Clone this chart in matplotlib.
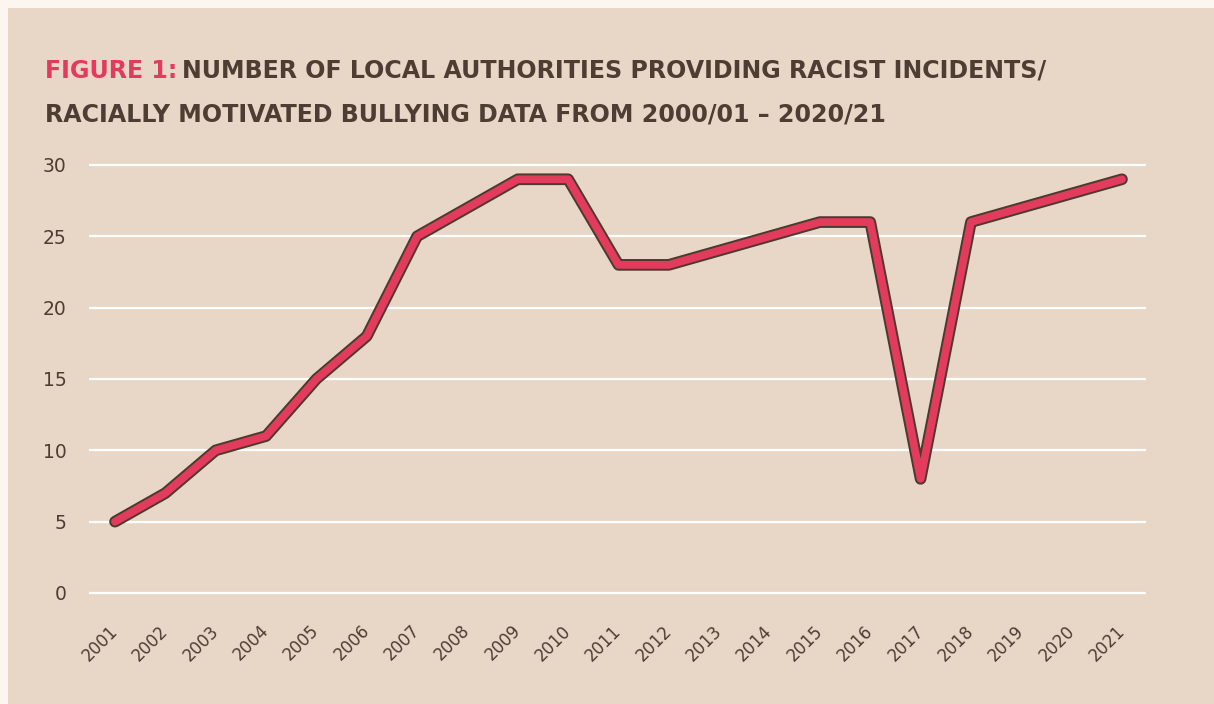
import matplotlib
matplotlib.use('Agg')
import matplotlib.pyplot as plt
from matplotlib.patches import Rectangle
from matplotlib.transforms import ScaledTranslation

# data: number of local authorities providing data, by year
years = ['2001', '2002', '2003', '2004', '2005', '2006', '2007', '2008', '2009', '2010', '2011',
         '2012', '2013', '2014', '2015', '2016', '2017', '2018', '2019', '2020', '2021']
counts = [5, 7, 10, 11, 15, 18, 25, 27, 29, 29, 23, 23, 24, 25, 26, 26, 8, 26, 27, 28, 29]
yticks = [0, 5, 10, 15, 20, 25, 30]

title_red = 'FIGURE 1:'
title_rest = 'NUMBER OF LOCAL AUTHORITIES PROVIDING RACIST INCIDENTS/'
title_line2 = 'RACIALLY MOTIVATED BULLYING DATA FROM 2000/01 \u2013 2020/21'

outer_bg = '#fdf6f0'
panel_bg = '#e8d7c7'
brown = '#4d3d33'
red = '#e23b5b'
outline = '#4a3a30'

fam = ['DejaVu Sans']

W, H = 1214, 704
fig = plt.figure(figsize=(W / 100, H / 100), dpi=100)
fig.patch.set_facecolor(outer_bg)
fig.patches.append(Rectangle((8 / W, 0), 1, 1 - 8 / H, transform=fig.transFigure,
                             facecolor=panel_bg, edgecolor='none', zorder=-10))

# axes: gridlines 0 -> y=593px, 30 -> y=165px, x from 89 to 1146 px
px_unit = (593 - 165) / 30
ax_bottom = 1 - (593 + px_unit) / H
ax_top = 1 - (165 - px_unit) / H
ax = fig.add_axes([89 / W, ax_bottom, (1146 - 89) / W, ax_top - ax_bottom])
ax.set_facecolor('none')

x = list(range(len(years)))
ax.plot(x, counts, color=outline, lw=8.4, solid_joinstyle='round', solid_capstyle='round',
        zorder=3, clip_on=False)
ax.plot(x, counts, color=red, lw=5.6, solid_joinstyle='round', solid_capstyle='round',
        zorder=4, clip_on=False)

ax.set_xlim(-26 / 50.35, 20 + 24 / 50.35)
ax.set_ylim(-1, 31)
ax.set_yticks(yticks)
ax.set_yticklabels([str(v) for v in yticks], family=fam, fontsize=13.5, color=brown)
for v in yticks:
    ax.axhline(v, color='white', lw=1.6, zorder=1)

ax.set_xticks(x)
ax.set_xticklabels(years, rotation=45, ha='right', va='center', rotation_mode='anchor',
                   family=fam, fontsize=12, color=brown)
shift = ScaledTranslation(10 / 100, 0, fig.dpi_scale_trans)
for lab in ax.get_xticklabels():
    lab.set_transform(lab.get_transform() + shift)
ax.tick_params(axis='x', length=0, pad=15)
ax.tick_params(axis='y', length=0, pad=16)
for s in ax.spines.values():
    s.set_visible(False)

# title, fitted to the reference width
r = fig.canvas.get_renderer()
fs = 20
t1 = fig.text(45 / W, 1 - 78 / H, title_red, color=red, fontsize=fs, fontweight='bold',
              family=fam, va='baseline')
t2 = fig.text(0, 1 - 78 / H, title_rest, color=brown, fontsize=fs, fontweight='bold',
              family=fam, va='baseline')
w = t1.get_window_extent(r).width + t2.get_window_extent(r).width + fs * 0.3
fs = fs * 1000 / w
t1.set_fontsize(fs)
t2.set_fontsize(fs)
x2 = (45 + t1.get_window_extent(r).width + fs * 0.3) / W
t2.set_x(x2)
fig.text(45 / W, 1 - 121 / H, title_line2, color=brown, fontsize=fs, fontweight='bold',
         family=fam, va='baseline')

fig.savefig('out.png', dpi=100, facecolor=fig.get_facecolor())
